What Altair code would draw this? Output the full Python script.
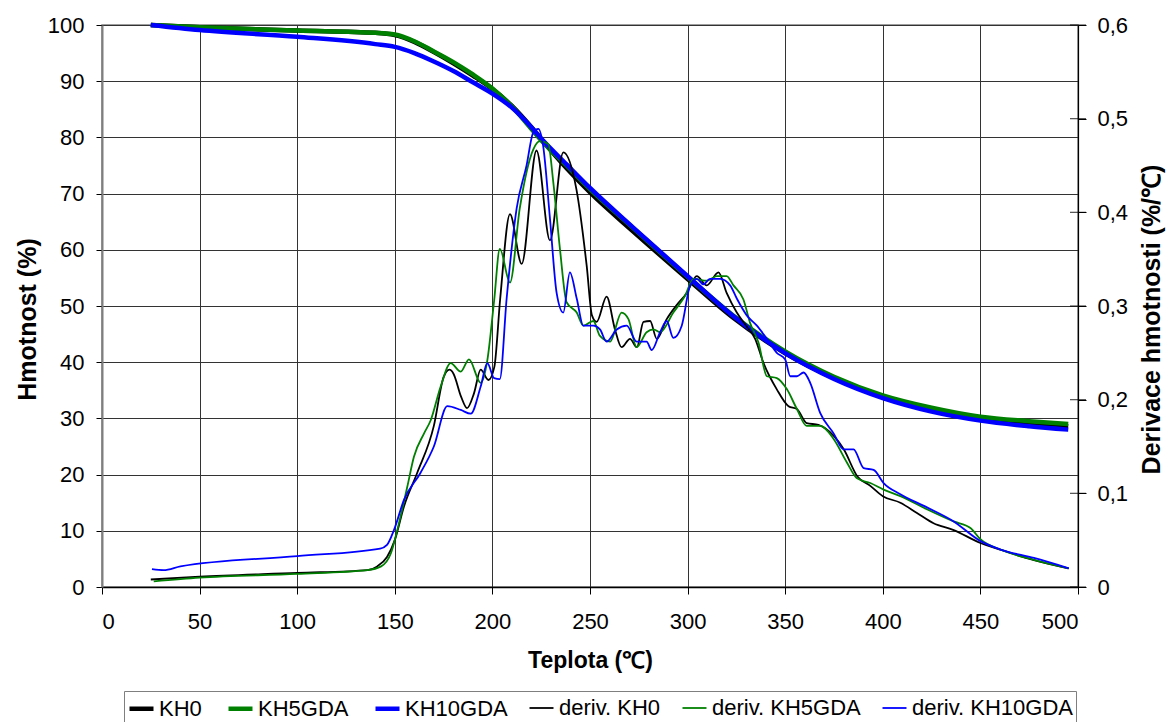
import altair as alt
import pandas as pd

# ---- TG curves: residual mass (%) versus temperature (°C) ----
tg_temp = [25, 50, 100, 140, 150, 160, 170, 180, 190, 200, 210, 220, 225,
           238, 250, 272, 300, 323, 350, 375, 400, 425, 450, 475, 495]
mass_kh0 = [100, 99.6, 99.0, 98.6, 98.2, 97.0, 95.2, 93.2, 91.0, 88.6, 85.6, 81.8, 79.7,
            74.5, 70.2, 63.3, 54.8, 48.0, 41.6, 37.2, 33.9, 31.6, 30.0, 29.1, 28.6]
mass_kh5 = [100, 99.6, 99.0, 98.6, 98.3, 97.1, 95.3, 93.4, 91.2, 88.7, 85.5, 81.5, 79.5,
            75.0, 70.8, 63.9, 55.2, 48.4, 41.9, 37.4, 34.1, 31.9, 30.3, 29.5, 29.0]
mass_kh10 = [100, 99.1, 97.9, 96.6, 96.1, 95.0, 93.5, 91.8, 89.8, 87.8, 85.3, 81.8, 79.8,
             75.2, 71.0, 64.0, 55.3, 48.3, 41.6, 37.0, 33.6, 31.2, 29.6, 28.6, 28.0]

# ---- DTG curves: mass derivative (%/°C) ----
d_kh0_t = [25, 50, 100, 136, 141, 146, 150, 154.7, 161.5, 170, 175, 178, 180, 184, 187,
           190.6, 194, 198, 201, 204, 209, 215, 222.6, 229.5, 236.3, 243, 248.3, 251,
           253.4, 258.5, 262.8, 266.2, 270.5, 274, 277.4, 280.8, 284.2, 289.3, 294.4,
           299.6, 304.7, 309.8, 315.8, 320, 325.2, 330.3, 334.6, 338.9, 345.7, 351.7,
           356, 361, 367, 375, 380, 387, 393.6, 400, 409, 417.5, 426, 436, 450, 460,
           477, 495]
d_kh0_v = [0.008, 0.011, 0.015, 0.018, 0.022, 0.032, 0.050, 0.086, 0.122, 0.172, 0.224,
           0.232, 0.228, 0.203, 0.191, 0.207, 0.232, 0.221, 0.235, 0.308, 0.398, 0.345,
           0.466, 0.370, 0.464, 0.425, 0.343, 0.290, 0.283, 0.310, 0.275, 0.256, 0.265,
           0.256, 0.283, 0.284, 0.265, 0.286, 0.301, 0.314, 0.332, 0.322, 0.336, 0.314,
           0.293, 0.278, 0.265, 0.239, 0.211, 0.193, 0.190, 0.175, 0.173, 0.161, 0.147,
           0.118, 0.108, 0.097, 0.090, 0.079, 0.068, 0.061, 0.047, 0.040, 0.029, 0.020]

d_kh5_t = [26.5, 50, 100, 136, 143, 148, 151.3, 156.4, 159.8, 165, 168.4, 173.5, 178.6,
           183.8, 188, 194, 197.4, 200.9, 203.8, 209, 214, 220.9, 224.4, 228.6, 231.2,
           234.6, 238, 243.2, 246.6, 251.7, 255.1, 260.3, 266.2, 269.7, 273.9, 279,
           282.5, 285.9, 292.7, 298.7, 303, 309.8, 314.9, 320, 323.5, 328.6, 332, 336.3,
           340.6, 345.7, 350.9, 356, 361, 368, 374.8, 381.6, 386.8, 393.6, 400.4, 409,
           422.6, 436.3, 444.9, 450, 460.3, 477.4, 495.3]
d_kh5_v = [0.006, 0.010, 0.014, 0.018, 0.022, 0.036, 0.061, 0.107, 0.139, 0.164, 0.178,
           0.214, 0.239, 0.230, 0.243, 0.218, 0.242, 0.306, 0.361, 0.325, 0.404, 0.467,
           0.476, 0.473, 0.432, 0.361, 0.304, 0.293, 0.279, 0.284, 0.268, 0.262, 0.293,
           0.286, 0.256, 0.272, 0.275, 0.272, 0.293, 0.311, 0.329, 0.327, 0.332, 0.332,
           0.322, 0.307, 0.282, 0.261, 0.225, 0.223, 0.211, 0.190, 0.172, 0.172, 0.158,
           0.133, 0.116, 0.111, 0.104, 0.097, 0.083, 0.070, 0.063, 0.051, 0.040, 0.029,
           0.020]

d_kh10_t = [25.6, 31.6, 40.2, 100, 142.5, 146, 149.6, 154.7, 163.2, 170, 176.9, 183.8,
            188.9, 194, 197.4, 200.9, 203.8, 207.3, 212.4, 217.5, 220.9, 223.5, 226,
            229.5, 232.9, 236.3, 239.7, 243.2, 246.6, 251.7, 255.1, 258.5, 263.7, 268.8,
            273.9, 279, 281.6, 285.9, 289.3, 292.7, 297, 301.3, 304.7, 308.1, 311.5,
            316.7, 321.8, 325.2, 330.3, 335.5, 340.6, 345.7, 350, 352.6, 356, 359.4,
            362.8, 367.9, 374.8, 379.9, 385, 390.2, 395.3, 400.4, 409, 422.6, 436.3,
            450, 460.3, 477.4, 495.3]
d_kh10_v = [0.019, 0.018, 0.022, 0.033, 0.041, 0.045, 0.061, 0.093, 0.122, 0.150, 0.193,
            0.189, 0.185, 0.214, 0.239, 0.223, 0.222, 0.308, 0.404, 0.450, 0.485, 0.489,
            0.471, 0.393, 0.314, 0.293, 0.336, 0.308, 0.279, 0.279, 0.275, 0.262, 0.275,
            0.279, 0.262, 0.262, 0.253, 0.272, 0.284, 0.266, 0.279, 0.322, 0.329, 0.323,
            0.329, 0.329, 0.322, 0.308, 0.290, 0.279, 0.265, 0.250, 0.243, 0.225, 0.225,
            0.229, 0.218, 0.186, 0.164, 0.147, 0.147, 0.127, 0.125, 0.111, 0.099, 0.085,
            0.070, 0.049, 0.040, 0.031, 0.020]

# axis tick values
temp_ticks = list(range(0, 501, 50))
mass_ticks = list(range(0, 101, 10))
deriv_ticks = [0, 0.1, 0.2, 0.3, 0.4, 0.5, 0.6]

series_names = ["KH0", "KH5GDA", "KH10GDA", "deriv. KH0", "deriv. KH5GDA", "deriv. KH10GDA"]
series_colors = ["#000000", "#008000", "#0000FF", "#000000", "#008000", "#0000FF"]
series_widths = [4.5, 4.5, 4.5, 1.8, 1.8, 1.8]
# series index k = 0..5; threshold breaks give every series its own colour / width
breaks = [0.5, 1.5, 2.5, 3.5, 4.5]


def frame(temps, values, k):
    return pd.DataFrame({"T": temps, "value": values, "series": series_names[k], "k": k})


mass_df = pd.concat([frame(tg_temp, mass_kh0, 0),
                     frame(tg_temp, mass_kh5, 1),
                     frame(tg_temp, mass_kh10, 2)])
deriv_df = pd.concat([frame(d_kh0_t, d_kh0_v, 3),
                      frame(d_kh5_t, d_kh5_v, 4),
                      frame(d_kh10_t, d_kh10_v, 5)])
# secondary-axis tick marks that cross the right-hand axis line
right_ticks_df = pd.DataFrame({"T": [temp_ticks[-1]] * len(deriv_ticks), "value": deriv_ticks})

FONT = "Liberation Sans"
names_js = "[" + ",".join("'%s'" % n for n in series_names) + "]"

legend = alt.Legend(
    orient="none", legendX=22, legendY=666, direction="horizontal", title=None,
    strokeColor="#7f7f7f", fillColor="white", padding=3,
    labelFont=FONT, labelFontSize=22, labelColor="black", labelOffset=3, labelLimit=400,
    labelExpr="datum.value < 0 ? 'KH0' : " + names_js + "[round(datum.value + 0.5)]",
    symbolType="stroke", symbolSize=576, columnPadding=17, columns=6,
)

color = alt.Color("k:Q", scale=alt.Scale(type="threshold", domain=breaks, range=series_colors),
                  legend=legend)
stroke_w = alt.StrokeWidth("k:Q", scale=alt.Scale(type="threshold", domain=breaks,
                                                  range=series_widths),
                           legend=legend)

x_enc = alt.X("T:Q", scale=alt.Scale(domain=[0, 500], nice=False),
              axis=alt.Axis(values=temp_ticks, title="Teplota (℃)",
                            grid=True, tickSize=7, labelPadding=17, titleFontSize=23,
                            titleY=80, titleBaseline="alphabetic",
                            domainColor="black", domainWidth=1.5))

deriv_scale = alt.Scale(domain=[0, 0.6], nice=False)

mass = alt.Chart(mass_df).mark_line(interpolate="monotone").encode(
    x=x_enc,
    y=alt.Y("value:Q", scale=alt.Scale(domain=[0, 100], nice=False),
            axis=alt.Axis(values=mass_ticks, title="Hmotnost (%)",
                          orient="left", grid=True, tickSize=6, labelPadding=12,
                          titleFontSize=25, titleX=-75, titleY=294, titleAngle=270,
                          titleBaseline="middle", titleAlign="center",
                          domainColor="#7f7f7f", domainWidth=2)),
    color=color,
    strokeWidth=stroke_w,
    detail="series:N",
)

deriv = alt.Chart(deriv_df).mark_line(interpolate="monotone").encode(
    x=x_enc,
    y=alt.Y("value:Q", scale=deriv_scale,
            axis=alt.Axis(values=deriv_ticks,
                          title="Derivace hmotnosti (%/℃)", orient="right", grid=False,
                          tickSize=8, labelPadding=11,
                          labelExpr="datum.value == 0 ? '0' : replace(format(datum.value, '.1f'), '.', ',')",
                          titleFontSize=25, titleX=73, titleY=294, titleAngle=270,
                          titleBaseline="middle", titleAlign="center",
                          domainColor="black", domainWidth=1.2)),
    color=color,
    strokeWidth=stroke_w,
    detail="series:N",
)

cross_ticks = alt.Chart(right_ticks_df).mark_tick(
    orient="horizontal", size=16, thickness=1.2, color="black"
).encode(
    x=alt.X("T:Q"),
    y=alt.Y("value:Q", scale=deriv_scale, axis=None),
)

chart = alt.layer(mass, deriv, cross_ticks).resolve_scale(y="independent").properties(
    width=976, height=562,
    autosize=alt.AutoSizeParams(type="none"),
    padding={"left": 102, "top": 25, "right": 88, "bottom": 135},
    background="white",
).configure_axis(
    labelFont=FONT, titleFont=FONT, labelFontSize=22,
    labelColor="black", titleColor="black", tickColor="black",
    gridColor="#333333", gridWidth=1, titleFontWeight="bold",
).configure_view(stroke="#7f7f7f", strokeWidth=1.5)

chart.save("out.html", embed_options={"renderer": "svg", "actions": False})
